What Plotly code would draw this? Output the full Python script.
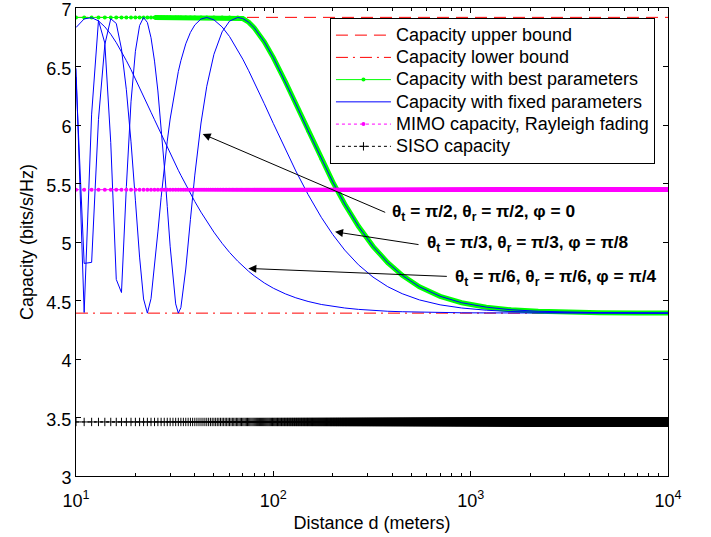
import plotly.graph_objects as go

# ---------------- data ----------------
distance = [10, 11, 12, 13, 14, 15, 16, 17, 18, 19, 20, 21, 22, 23, 24, 25, 26, 27, 28, 29, 30,
            32, 33, 34, 36, 38, 40, 43, 46, 50, 55, 60, 66, 70, 75, 80, 90, 100, 115, 130, 150,
            175, 200, 230, 270, 320, 380, 450, 550, 700, 900, 1200, 1600, 2200, 3000, 4500, 7000, 10000]

best_capacity = [6.919] * 33 + [6.910, 6.879, 6.831, 6.711, 6.576, 6.372, 6.180, 5.951,
                                5.711, 5.514, 5.325, 5.134, 4.963, 4.823, 4.715, 4.617, 4.536,
                                4.481, 4.443, 4.421, 4.408, 4.401, 4.396, 4.394, 4.393]

fixed_pi2 = [6.484, 4.398, 6.093, 6.893, 6.700, 5.849, 4.680, 4.568, 5.474, 6.198, 6.630, 6.850,
             6.919, 6.876, 6.746, 6.546, 6.291, 5.989, 5.655, 5.304, 4.964,
             4.471, 4.392, 4.439, 4.769, 5.191, 5.572, 6.017, 6.331, 6.604, 6.796, 6.888, 6.919,
             6.910, 6.879, 6.831, 6.711, 6.576, 6.372, 6.180, 5.951, 5.711, 5.514, 5.325, 5.134,
             4.963, 4.823, 4.715, 4.617, 4.536, 4.481, 4.443, 4.421, 4.408, 4.401, 4.396, 4.394, 4.393]

fixed_pi3 = [6.409, 4.817, 4.826, 6.048, 6.688, 6.908, 6.868, 6.650, 6.301, 5.856, 5.357, 4.871,
             4.513, 4.392, 4.516, 4.781, 5.086, 5.379, 5.639, 5.862, 6.051,
             6.345, 6.457, 6.550, 6.694, 6.791, 6.855, 6.906, 6.919, 6.899, 6.838, 6.756, 6.641,
             6.563, 6.464, 6.367, 6.182, 6.013, 5.793, 5.607, 5.406, 5.211, 5.064, 4.931, 4.805,
             4.700, 4.618, 4.558, 4.505, 4.463, 4.436, 4.417, 4.406, 4.400, 4.396, 4.394, 4.393, 4.392]

fixed_pi6 = [6.833, 6.907, 6.917, 6.890, 6.839, 6.776, 6.704, 6.627, 6.550, 6.473, 6.396, 6.321,
             6.248, 6.178, 6.109, 6.045, 5.982, 5.922, 5.864, 5.809, 5.757,
             5.659, 5.613, 5.570, 5.489, 5.414, 5.346, 5.255, 5.176, 5.084, 4.989, 4.911, 4.836,
             4.794, 4.749, 4.711, 4.650, 4.605, 4.557, 4.523, 4.492, 4.466, 4.449, 4.436, 4.424,
             4.415, 4.408, 4.404, 4.400, 4.397, 4.395, 4.394, 4.393, 4.393, 4.392, 4.392, 4.392, 4.392]

upper_bound = 6.92
lower_bound = 4.392
mimo_rayleigh = 5.447
siso_capacity = 3.462

d_range = [10, 10000]
d_dense = list(range(10, 10001))          # sampling grid of the constant curves

x_tick_vals = [10, 100, 1000, 10000]
x_tick_text = ["10<sup>1</sup>", "10<sup>2</sup>", "10<sup>3</sup>", "10<sup>4</sup>"]
x_minor_vals = [20, 30, 40, 50, 60, 70, 80, 90, 200, 300, 400, 500, 600, 700, 800, 900,
                2000, 3000, 4000, 5000, 6000, 7000, 8000, 9000]

series_names = ["Capacity upper bound", "Capacity lower bound", "Capacity with best parameters",
                "Capacity with fixed parameters", "MIMO capacity, Rayleigh fading", "SISO capacity"]

labels = ["<b>θ<sub>t</sub> = π/2, θ<sub>r</sub> = π/2, φ = 0</b>",
          "<b>θ<sub>t</sub> = π/3, θ<sub>r</sub> = π/3, φ = π/8</b>",
          "<b>θ<sub>t</sub> = π/6, θ<sub>r</sub> = π/6, φ = π/4</b>"]

# ---------------- figure ----------------
FONT = "Liberation Sans, Arial, Helvetica, sans-serif"
RED, GREEN, BLUE, MAGENTA = "#ff0000", "#00ff00", "#0000ff", "#ff00ff"


def leg(name):
    return '<span style="font-size:18px">' + name + '</span>'


fig = go.Figure()
fig.add_trace(go.Scatter(x=d_range, y=[upper_bound] * 2, mode="lines",
                         line=dict(color=RED, width=1, dash="12px,7px"),
                         name=leg(series_names[0])))
fig.add_trace(go.Scatter(x=d_range, y=[lower_bound] * 2, mode="lines",
                         line=dict(color=RED, width=1, dash="12px,5px,2px,5px"),
                         name=leg(series_names[1])))
# dense marker band of the best-parameter curve
fig.add_trace(go.Scatter(x=distance[15:], y=best_capacity[15:], mode="lines",
                         line=dict(color=GREEN, width=5), showlegend=False, hoverinfo="skip"))
fig.add_trace(go.Scatter(x=distance, y=best_capacity, mode="lines+markers",
                         line=dict(color=GREEN, width=1),
                         marker=dict(color=GREEN, size=4),
                         name=leg(series_names[2])))
for i, ys in enumerate([fixed_pi2, fixed_pi3, fixed_pi6]):
    fig.add_trace(go.Scatter(x=distance, y=ys, mode="lines",
                             line=dict(color=BLUE, width=1),
                             name=leg(series_names[3]),
                             showlegend=(i == 0)))
fig.add_trace(go.Scatter(x=d_dense, y=[mimo_rayleigh] * len(d_dense), mode="lines+markers",
                         line=dict(color=MAGENTA, width=1, dash="dot"),
                         marker=dict(color=MAGENTA, size=4),
                         name=leg(series_names[4])))
fig.add_trace(go.Scatter(x=d_dense, y=[siso_capacity] * len(d_dense), mode="lines+markers",
                         line=dict(color="black", width=1, dash="dot"),
                         marker=dict(color="black", size=6, symbol="cross-thin",
                                     line=dict(color="black", width=1)),
                         name=leg(series_names[5])))

# arrows (tip in data units, tail offset in px)
arrows = [(1.642, 5.923, 184, 79), (2.3127, 5.087, 85, 13), (1.8733, 4.774, 200, 8)]
for xt, yt, axp, ayp in arrows:
    fig.add_annotation(x=xt, y=yt, xref="x", yref="y", ax=axp, ay=ayp, text="",
                       showarrow=True, arrowhead=2, arrowsize=1.6, arrowwidth=1,
                       arrowcolor="black")
label_pos = [(0.5305, 0.563), (0.5895, 0.497), (0.637, 0.4245)]
for (xp, yp), txt in zip(label_pos, labels):
    fig.add_annotation(x=xp, y=yp, xref="paper", yref="paper", text=txt, showarrow=False,
                       xanchor="left", yanchor="middle",
                       font=dict(family=FONT, size=17.3, color="black"))

axis_common = dict(showline=True, linecolor="black", linewidth=1, mirror="allticks",
                   ticks="inside", ticklen=5, tickcolor="black", showgrid=False,
                   zeroline=False, ticklabeloverflow="allow", automargin=False,
                   tickfont=dict(family=FONT, size=18, color="black"))

fig.update_xaxes(type="log", range=[1, 4], tickvals=x_tick_vals, ticktext=x_tick_text,
                 minor=dict(ticks="inside", ticklen=3, tickcolor="black", tickvals=x_minor_vals),
                 ticklabelstandoff=8,
                 title=dict(text="Distance d (meters)", font=dict(family=FONT, size=18, color="black"),
                            standoff=6),
                 **axis_common)
fig.update_yaxes(range=[3, 7], dtick=0.5, tick0=3, ticklabelshift=2,
                 title=dict(text="Capacity (bits/s/Hz)", font=dict(family=FONT, size=18, color="black"),
                            standoff=8),
                 **axis_common)

fig.update_layout(
    width=711, height=537,
    margin=dict(l=76, r=43, t=8, b=61),
    plot_bgcolor="white", paper_bgcolor="white",
    font=dict(family=FONT, size=18, color="black"),
    legend=dict(x=0.429, y=0.9786, xanchor="left", yanchor="top",
                bgcolor="white", bordercolor="black", borderwidth=1,
                font=dict(family=FONT, size=14.8, color="black"),
                itemwidth=55, tracegroupgap=0),
    showlegend=True,
)

fig.write_html("out.html", config={"displayModeBar": False},
               post_script="document.body.style.margin='0px';")
